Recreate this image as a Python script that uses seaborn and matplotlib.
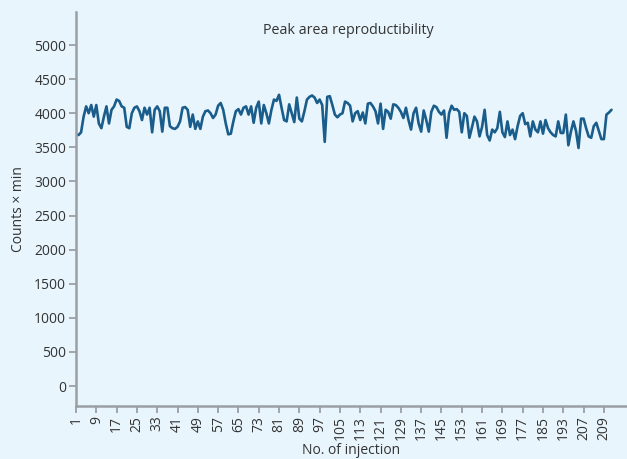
import numpy as np
import pandas as pd
import matplotlib
matplotlib.use("Agg")
import matplotlib.pyplot as plt
import seaborn as sns

counts = [
    3690, 3680, 3720, 3950, 4100, 4000, 4120, 3950, 4120, 3850,
    3780, 3950, 4100, 3850, 4050, 4100, 4200, 4180, 4100, 4080,
    3800, 3780, 4000, 4080, 4100, 4030, 3900, 4080, 3980, 4080,
    3720, 4050, 4100, 4030, 3730, 4080,
    4080, 3810, 3780, 3770, 3800, 3880, 4080, 4090, 4050, 3800,
    3980, 3770, 3880, 3770, 3950, 4030, 4040, 4000, 3930, 3980,
    4110, 4150, 4050, 3850, 3690, 3700, 3880, 4030, 4060, 3980,
    4080, 4100, 3980, 4100, 3860, 4080,
    4170, 3850, 4120, 4000, 3850, 4050, 4200, 4180, 4270, 4080,
    3900, 3880, 4130, 4000, 3870, 4230, 3920, 3880, 4030, 4200,
    4240, 4260, 4230, 4150, 4200, 4120, 3580, 4240, 4250, 4120,
    3980, 3940, 3980, 4000, 4170, 4150,
    4110, 3880, 4000, 4030, 3900, 4010, 3850, 4140, 4150, 4100,
    4030, 3850, 4140, 3770, 4050, 4020, 3920, 4130, 4120, 4080,
    4020, 3930, 4080, 3900, 3760, 4000, 4080, 3850, 3730, 4040,
    3900, 3730, 4020, 4110, 4090, 4020,
    3980, 4040, 3640, 4000, 4110, 4050, 4060, 4020, 3720, 4000,
    3960, 3640, 3790, 3950, 3880, 3660, 3800, 4050, 3680, 3600,
    3760, 3720, 3780, 4020, 3720, 3650, 3880, 3680, 3760, 3620,
    3810, 3960, 4000, 3840, 3860, 3660,
    3880, 3760, 3720, 3880, 3700, 3900, 3780, 3720, 3680, 3660,
    3880, 3710, 3710, 3980, 3530, 3730, 3880, 3740, 3490, 3920,
    3920, 3780, 3660, 3640, 3810, 3860, 3740, 3620, 3620, 3980,
    4010, 4050,
]
injection = list(range(1, len(counts) + 1))

x_tick_positions = list(range(1, 210, 8))
x_tick_labels = [str(v) for v in x_tick_positions]
x_tick_labels[x_tick_positions.index(201)] = "207"
y_ticks = list(range(0, 5001, 500))

title = "Peak area reproductibility"
x_label = "No. of injection"
y_label = "Counts × min"

bg = "#e8f5fd"
line_color = "#1a5d8b"
spine_color = "#9a9fa4"
text_color = "#333333"

sns.set_theme(style="white")
plt.rcParams["font.family"] = ["Open Sans", "DejaVu Sans"]

df = pd.DataFrame({"injection": injection, "counts": counts})

fig = plt.figure(figsize=(6.27, 4.59), dpi=100, facecolor=bg)
ax = fig.add_axes([76 / 627, 1 - 406 / 459, 1 - 76 / 627, (406 - 12) / 459])
ax.set_facecolor(bg)

sns.lineplot(data=df, x="injection", y="counts", ax=ax, color=line_color,
             linewidth=1.9, estimator=None)

ax.set_xlim(1, 218.1)
ax.set_ylim(-293, 5484)
ax.set_xticks(x_tick_positions)
ax.set_xticklabels(x_tick_labels, rotation=90, fontsize=10, color=text_color)
ax.set_yticks(y_ticks)
ax.set_yticklabels([str(v) for v in y_ticks], fontsize=10, color=text_color)

for side in ["top", "right"]:
    ax.spines[side].set_visible(False)
for side in ["left", "bottom"]:
    ax.spines[side].set_color(spine_color)
    ax.spines[side].set_linewidth(1.8)

ax.tick_params(axis="both", which="major", length=5, width=1.3,
               color=spine_color, direction="out", pad=2,
               bottom=True, left=True)

ax.set_xlabel(x_label, fontsize=10, color=text_color, labelpad=2.5)
ax.set_ylabel(y_label, fontsize=10, color=text_color, labelpad=6)
ax.text(0.495, 0.952, title, transform=ax.transAxes, ha="center", va="center",
        fontsize=10.3, color=text_color)
ax.grid(False)

fig.savefig("out.png", dpi=100, facecolor=bg)
